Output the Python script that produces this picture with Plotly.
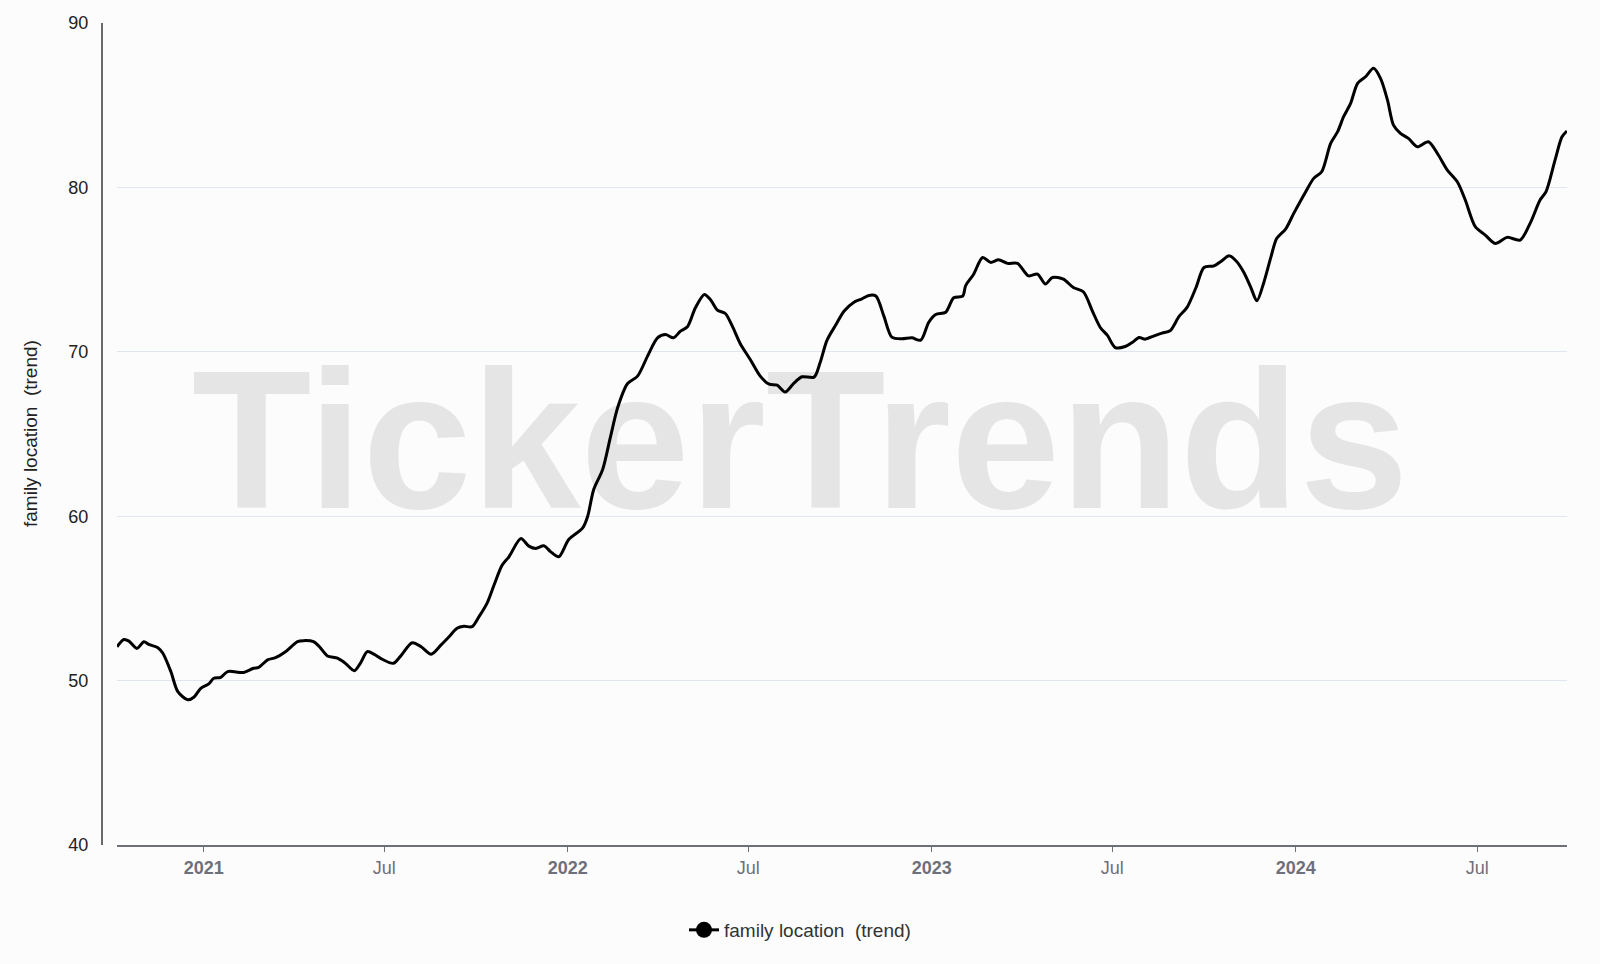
import plotly.graph_objects as go

# ---- data ----
dates = [
    "2020-10-06", "2020-10-13", "2020-10-18", "2020-10-26", "2020-11-02", "2020-11-07",
    "2020-11-16", "2020-11-21", "2020-11-29", "2020-12-06", "2020-12-16", "2020-12-22",
    "2020-12-29", "2021-01-06", "2021-01-11", "2021-01-18", "2021-01-25", "2021-02-10",
    "2021-02-20", "2021-02-25", "2021-03-06", "2021-03-14", "2021-03-24", "2021-04-05",
    "2021-04-11", "2021-04-21", "2021-04-27", "2021-05-05", "2021-05-15", "2021-05-23",
    "2021-06-01", "2021-06-07", "2021-06-14", "2021-06-21", "2021-06-29", "2021-07-10",
    "2021-07-17", "2021-07-29", "2021-08-07", "2021-08-17", "2021-08-27", "2021-09-04",
    "2021-09-12", "2021-09-19", "2021-09-27", "2021-10-04", "2021-10-12", "2021-10-19",
    "2021-10-27", "2021-11-03", "2021-11-15", "2021-11-23", "2021-11-30", "2021-12-08",
    "2021-12-15", "2021-12-23", "2022-01-02", "2022-01-16", "2022-01-21", "2022-01-27",
    "2022-02-05", "2022-02-13", "2022-02-20", "2022-03-02", "2022-03-12", "2022-03-22",
    "2022-04-01", "2022-04-09", "2022-04-17", "2022-04-24", "2022-05-01", "2022-05-09",
    "2022-05-18", "2022-05-24", "2022-05-31", "2022-06-08", "2022-06-15", "2022-06-23",
    "2022-07-03", "2022-07-13", "2022-07-22", "2022-07-30", "2022-08-07", "2022-08-16",
    "2022-08-24", "2022-09-05", "2022-09-11", "2022-09-18", "2022-09-27", "2022-10-05",
    "2022-10-15", "2022-10-23", "2022-10-30", "2022-11-06", "2022-11-14", "2022-11-22",
    "2022-12-02", "2022-12-12", "2022-12-21", "2022-12-29", "2023-01-05", "2023-01-15",
    "2023-01-23", "2023-02-01", "2023-02-04", "2023-02-12", "2023-02-21", "2023-03-01",
    "2023-03-09", "2023-03-18", "2023-03-28", "2023-04-08", "2023-04-17", "2023-04-25",
    "2023-05-02", "2023-05-13", "2023-05-23", "2023-06-02", "2023-06-11", "2023-06-19",
    "2023-06-26", "2023-07-04", "2023-07-14", "2023-07-21", "2023-07-28", "2023-08-03",
    "2023-08-12", "2023-08-20", "2023-08-28", "2023-09-06", "2023-09-14", "2023-09-23",
    "2023-10-01", "2023-10-11", "2023-10-19", "2023-10-26", "2023-11-02", "2023-11-10",
    "2023-11-17", "2023-11-23", "2023-11-30", "2023-12-07", "2023-12-13", "2023-12-22",
    "2023-12-30", "2024-01-11", "2024-01-19", "2024-01-27", "2024-02-05", "2024-02-12",
    "2024-02-18", "2024-02-25", "2024-03-03", "2024-03-11", "2024-03-19", "2024-03-26",
    "2024-04-02", "2024-04-08", "2024-04-15", "2024-04-23", "2024-05-02", "2024-05-13",
    "2024-05-23", "2024-06-01", "2024-06-11", "2024-06-19", "2024-06-29", "2024-07-09",
    "2024-07-19", "2024-07-31", "2024-08-13", "2024-08-23", "2024-09-02", "2024-09-08",
    "2024-09-17", "2024-09-24", "2024-09-29",
]

values = [
    52.06, 52.50, 52.40, 51.96, 52.37, 52.20,
    52.00, 51.66, 50.55, 49.33, 48.83, 48.99,
    49.53, 49.80, 50.14, 50.20, 50.55, 50.49,
    50.75, 50.80, 51.26, 51.40, 51.76, 52.37,
    52.43, 52.37, 52.06, 51.50, 51.36, 51.05,
    50.60, 51.05, 51.76, 51.60, 51.30, 51.05,
    51.46, 52.30, 52.06, 51.60, 52.17, 52.67,
    53.18, 53.30, 53.28, 53.89, 54.70, 55.80,
    57.00, 57.53, 58.64, 58.18, 58.04, 58.20,
    57.83, 57.53, 58.58, 59.29, 60.00, 61.62,
    62.84, 64.87, 66.60, 68.07, 68.52, 69.74,
    70.85, 71.05, 70.85, 71.26, 71.52, 72.68,
    73.49, 73.18, 72.54, 72.33, 71.56, 70.49,
    69.53, 68.52, 68.03, 67.97, 67.55, 68.11,
    68.48, 68.46, 69.33, 70.71, 71.66, 72.47,
    73.02, 73.22, 73.43, 73.39, 72.17, 70.89,
    70.79, 70.85, 70.71, 71.80, 72.27, 72.41,
    73.29, 73.39, 74.02, 74.72, 75.74, 75.44,
    75.60, 75.38, 75.38, 74.62, 74.73, 74.12,
    74.52, 74.42, 73.91, 73.65, 72.49, 71.48,
    71.01, 70.26, 70.32, 70.57, 70.87, 70.77,
    70.97, 71.14, 71.28, 72.15, 72.70, 73.91,
    75.13, 75.23, 75.54, 75.84, 75.54, 74.83,
    73.91, 73.10, 74.22, 75.74, 76.90, 77.48,
    78.42, 79.74, 80.55, 80.95, 82.68, 83.39,
    84.30, 85.11, 86.33, 86.73, 87.24, 86.63,
    85.31, 83.79, 83.29, 82.98, 82.47, 82.78,
    81.97, 81.05, 80.34, 79.23, 77.61, 77.10,
    76.59, 76.96, 76.80, 77.81, 79.23, 79.74,
    81.66, 83.08, 83.43,
]

x_tick_vals = ["2021-01-01", "2021-07-01", "2022-01-01", "2022-07-01",
               "2023-01-01", "2023-07-01", "2024-01-01", "2024-07-01"]
x_tick_text = ["<b>2021</b>", "Jul", "<b>2022</b>", "Jul",
               "<b>2023</b>", "Jul", "<b>2024</b>", "Jul"]
y_tick_vals = [40, 50, 60, 70, 80, 90]

series_name = "family location\u00a0\u00a0(trend)"
axis_title = "family location\u00a0\u00a0(trend)"
watermark_text = "TickerTrends"

# ---- styling / placement ----
FONT = "Liberation Sans, Arial, Helvetica, sans-serif"
X_RANGE = [dates[0], dates[-1]]
Y_RANGE = [40, 90]
WATERMARK_X = "2022-08-22"
WATERMARK_Y = 63.45

fig = go.Figure()

# watermark drawn first so the line sits on top of it
fig.add_trace(go.Scatter(
    x=[WATERMARK_X], y=[WATERMARK_Y], mode="text", text=[watermark_text],
    textposition="middle center",
    textfont=dict(family=FONT, size=196, color="#e5e5e5", weight="bold"),
    hoverinfo="skip", showlegend=False,
))

fig.add_trace(go.Scatter(
    x=dates, y=values, mode="lines", name=series_name,
    line=dict(color="#000000", width=3, shape="spline", smoothing=0.8),
    showlegend=False,
))

# legend entry (line + circle marker, as in the reference)
fig.add_trace(go.Scatter(
    x=[None], y=[None], mode="lines+markers", name=series_name,
    line=dict(color="#000000", width=3),
    marker=dict(color="#000000", size=16, symbol="circle"),
    showlegend=True,
))

L, R, T, B = 102, 33, 23, 119
plot_w = 1600 - L - R

fig.update_layout(
    width=1600, height=964,
    margin=dict(l=L, r=R, t=T, b=B, pad=0),
    paper_bgcolor="#fcfcfd", plot_bgcolor="#fcfcfd",
    font=dict(family=FONT, color="#222222"),
    showlegend=True,
    legend=dict(
        orientation="h", xref="container", yref="container",
        x=0.5, xanchor="center", y=1 - 930 / 964, yanchor="middle",
        font=dict(size=19, color="#333333", family=FONT),
        bgcolor="rgba(0,0,0,0)",
    ),
    xaxis=dict(
        type="date", range=X_RANGE, domain=[15 / plot_w, 1],
        tickmode="array", tickvals=x_tick_vals, ticktext=x_tick_text,
        showgrid=False, zeroline=False,
        showline=True, linecolor="#6E7079", linewidth=1.5,
        ticks="outside", ticklen=5, tickwidth=1, tickcolor="#6E7079",
        tickfont=dict(size=18, color="#6E7079", family=FONT),
        ticklabelstandoff=1,
    ),
    yaxis=dict(
        range=Y_RANGE, tickmode="array", tickvals=y_tick_vals,
        anchor="free", position=0,
        showgrid=True, gridcolor="#E0E6F1", gridwidth=1,
        zeroline=False,
        showline=True, linecolor="#6a6a6a", linewidth=2,
        ticks="", tickfont=dict(size=18, color="#222222", family=FONT),
        ticklabelstandoff=9,
    ),
    annotations=[dict(
        text=axis_title, xref="paper", yref="paper",
        x=(30 - L) / plot_w, y=0.5, xanchor="center", yanchor="middle",
        textangle=-90, showarrow=False,
        font=dict(size=19, color="#222222", family=FONT),
    )],
)

fig.write_html(
    "out.html",
    config={"displayModeBar": False},
    post_script="document.body.style.margin='0';",
)
